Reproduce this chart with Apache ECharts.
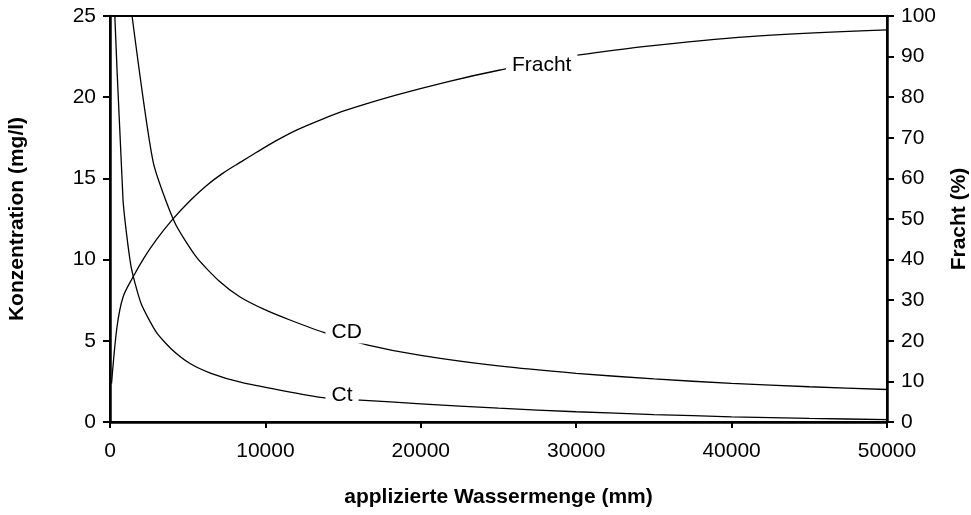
<!DOCTYPE html>
<html>
<head>
<meta charset="utf-8">
<script src="https://cdn.jsdelivr.net/npm/echarts@6/dist/echarts.min.js"></script>
<style>
  html, body { margin: 0; padding: 0; background: #fff; }
  #chart { width: 971px; height: 515px; }
</style>
</head>
<body>
<div id="chart"></div>
<script>
// Werte (x = applizierte Wassermenge in mm)
const ctX = [100, 837, 1350, 2000, 3000, 4000, 5150, 6500, 8400, 11000, 13700, 16100, 20000, 25000, 30000, 35000, 40000, 45000, 50000]
const ctY = [29.9, 13.7, 9.6, 7.3, 5.5, 4.45, 3.6, 3.0, 2.45, 1.95, 1.5, 1.35, 1.12, 0.85, 0.63, 0.46, 0.32, 0.22, 0.15]

const cdX = [1380, 2780, 4180, 5600, 7000, 8370, 10000, 11580, 13800, 16600, 20000, 25000, 30000, 35000, 40000, 45000, 50000]
const cdY = [25.3, 16.0, 12.25, 10.1, 8.7, 7.7, 6.9, 6.28, 5.5, 4.74, 4.1, 3.45, 3.0, 2.65, 2.38, 2.17, 2.0]

const frachtX = [100, 450, 840, 1480, 2200, 3000, 4000, 5150, 6200, 7270, 8400, 9460, 10700, 12000, 13600, 15200, 18400, 21700, 25100, 30200, 35400, 41800, 50000]
const frachtY = [9.5, 23.4, 30.8, 35.7, 40.5, 45.0, 49.8, 54.5, 58.2, 61.3, 64.0, 66.5, 69.3, 71.9, 74.5, 76.8, 80.5, 83.8, 86.7, 90.4, 92.9, 95.1, 96.6]

// Beschriftungen an den Kurven [x, y]
const labelFracht = [27780, 87.9]
const labelCD = [15230, 5.54]
const labelCt = [14930, 1.66]

const font = "'Liberation Sans', Arial, sans-serif"

function pairs(xs, ys) {
  return xs.map((x, i) => [x, ys[i]])
}

function curveLabel(name, coord) {
  return {
    symbol: 'rect',
    symbolSize: 0,
    data: [{ name: name, coord: coord }],
    label: {
      show: true,
      position: 'inside',
      formatter: '{b}',
      color: '#000',
      fontFamily: font,
      fontSize: 21,
      backgroundColor: '#fff',
      padding: [1, 6]
    }
  }
}

const lineStyle = { color: '#000', width: 1.3 }
const titleStyle = { fontFamily: font, fontSize: 21, fontWeight: 'bold', color: '#000' }
const tickLabel = { fontFamily: font, fontSize: 21, color: '#000' }

let myChart = echarts.init(document.getElementById('chart'))
let option = {
  animation: false,
  backgroundColor: '#fff',
  grid: {
    left: 110,
    right: 84,
    top: 16,
    bottom: 93,
    containLabel: false,
    outerBoundsMode: 'none',
    show: true,
    borderColor: '#000',
    borderWidth: 2
  },
  xAxis: {
    type: 'value',
    min: 0,
    max: 50000,
    interval: 10000,
    name: 'applizierte Wassermenge (mm)',
    nameLocation: 'middle',
    nameGap: 65,
    nameTextStyle: titleStyle,
    axisLine: { lineStyle: { color: '#000', width: 2.5 } },
    axisTick: { show: true, inside: false, length: 6, lineStyle: { color: '#000', width: 2 } },
    axisLabel: Object.assign({ margin: 19, formatter: v => String(v) }, tickLabel),
    splitLine: { show: false }
  },
  yAxis: [
    {
      type: 'value',
      min: 0,
      max: 25,
      interval: 5,
      position: 'left',
      name: 'Konzentration (mg/l)',
      nameLocation: 'middle',
      nameGap: 82,
      nameRotate: 90,
      nameTextStyle: titleStyle,
      axisLine: { show: true, lineStyle: { color: '#000', width: 2.5 } },
      axisTick: { show: true, length: 7, lineStyle: { color: '#000', width: 2 } },
      axisLabel: Object.assign({ margin: 14 }, tickLabel),
      splitLine: { show: false }
    },
    {
      type: 'value',
      min: 0,
      max: 100,
      interval: 10,
      position: 'right',
      name: 'Fracht (%)',
      nameLocation: 'middle',
      nameGap: 62,
      nameRotate: 90,
      nameTextStyle: titleStyle,
      axisLine: { show: true, lineStyle: { color: '#000', width: 2.5 } },
      axisTick: { show: true, length: 7, lineStyle: { color: '#000', width: 2 } },
      axisLabel: Object.assign({ margin: 14 }, tickLabel),
      splitLine: { show: false }
    }
  ],
  series: [
    {
      name: 'Ct',
      type: 'line',
      yAxisIndex: 0,
      showSymbol: false,
      smooth: 0.2,
      clip: true,
      lineStyle: lineStyle,
      data: pairs(ctX, ctY),
      markPoint: curveLabel('Ct', labelCt)
    },
    {
      name: 'CD',
      type: 'line',
      yAxisIndex: 0,
      showSymbol: false,
      smooth: 0.2,
      clip: true,
      lineStyle: lineStyle,
      data: pairs(cdX, cdY),
      markPoint: curveLabel('CD', labelCD)
    },
    {
      name: 'Fracht',
      type: 'line',
      yAxisIndex: 1,
      showSymbol: false,
      smooth: 0.3,
      clip: true,
      lineStyle: lineStyle,
      data: pairs(frachtX, frachtY),
      markPoint: curveLabel('Fracht', labelFracht)
    }
  ]
}
myChart.setOption(option)
</script>
</body>
</html>
